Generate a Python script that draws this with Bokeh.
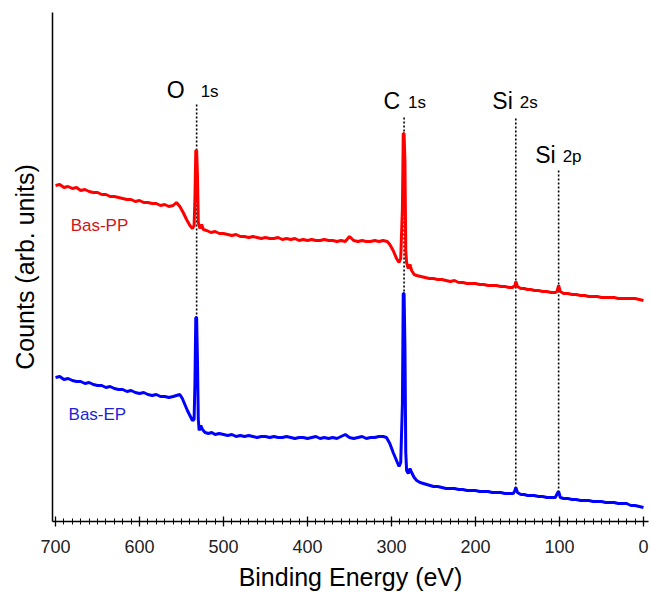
from bokeh.plotting import figure
from bokeh.models import Range1d, SingleIntervalTicker, FixedTicker, ColumnDataSource
from bokeh.core.properties import value
from bokeh.embed import file_html
from bokeh.resources import INLINE

# ---------------- data ----------------
pp_energy = [700, 695, 690, 685, 680, 675, 670, 665, 660, 655, 650, 645, 640, 635, 630, 625, 620, 615, 610, 605,
             600, 595, 590, 585, 580, 575, 570, 565, 560, 556, 552, 548, 544, 540, 537, 535, 534, 533, 532, 531,
             530, 528, 526, 524, 520, 515, 510, 505, 500, 495, 490, 485, 480, 475, 470, 465, 460, 455, 450, 445,
             440, 435, 430, 425, 420, 415, 410, 405, 400, 395, 390, 385, 380, 375, 370, 365, 360, 355, 350, 345,
             340, 335, 330, 325, 320, 315, 310, 305, 302, 298, 294, 291, 289, 287, 286, 285, 284, 283, 282, 280,
             278, 276, 273, 270, 265, 260, 255, 250, 245, 240, 235, 230, 225, 220, 215, 210, 205, 200, 195, 190,
             185, 180, 175, 170, 165, 160, 156, 153, 152, 150, 146, 142, 138, 134, 130, 125, 120, 115, 110, 105,
             103, 101, 99, 95, 90, 85, 80, 75, 70, 65, 60, 55, 50, 45, 40, 35, 30, 25, 20, 15, 10, 5, 0]
pp_counts = [336, 337, 334, 335, 333, 334, 331, 332, 330, 329, 329, 327, 327, 325, 325, 324, 323, 322, 322, 320,
             321, 319, 319, 318, 318, 316, 317, 315, 316, 319, 315, 309, 302, 296, 293, 296, 324, 371, 371, 346,
             299, 293, 297, 292, 291, 289, 290, 288, 288, 287, 286, 287, 285, 285, 284, 285, 284, 283, 284, 283,
             283, 284, 282, 283, 282, 283, 281, 282, 281, 282, 281, 281, 282, 281, 281, 280, 281, 280, 285, 281,
             280, 281, 280, 280, 281, 280, 281, 280, 277, 271, 263, 259, 263, 313, 388, 388, 361, 271, 259, 253,
             257, 251, 247, 246, 245, 244, 243, 243, 242, 242, 241, 240, 241, 239, 239, 238, 238, 238, 237, 237,
             236, 236, 236, 235, 235, 234, 234, 236, 240, 235, 233, 233, 232, 232, 231, 231, 230, 230, 229, 229,
             230, 236, 230, 228, 228, 227, 227, 226, 226, 225, 225, 225, 224, 224, 224, 224, 223, 223, 223, 223,
             223, 222, 221]

ep_energy = [700, 695, 690, 685, 680, 675, 670, 665, 660, 655, 650, 645, 640, 635, 630, 625, 620, 615, 610, 605,
             600, 595, 590, 585, 580, 575, 570, 565, 560, 556, 552, 549, 546, 543, 540, 537, 535, 534, 533, 532,
             531, 530, 529, 527, 525, 522, 518, 514, 510, 505, 500, 495, 490, 485, 480, 475, 470, 465, 460, 455,
             450, 445, 440, 435, 430, 425, 420, 415, 410, 405, 400, 395, 390, 385, 380, 375, 370, 365, 360, 355,
             350, 345, 340, 335, 330, 325, 320, 315, 310, 306, 302, 298, 294, 291, 289, 287, 286, 285, 284, 283,
             282, 280, 278, 276, 273, 270, 266, 262, 258, 254, 250, 245, 240, 235, 230, 225, 220, 215, 210, 205,
             200, 195, 190, 185, 180, 175, 170, 165, 160, 155, 153, 152, 150, 146, 142, 138, 134, 130, 125, 120,
             115, 110, 105, 102, 101, 99, 95, 90, 85, 80, 75, 70, 65, 60, 55, 50, 45, 40, 35, 30, 25, 20, 15, 10, 5, 0]
ep_counts = [144, 145, 142, 143, 141, 140, 140, 138, 139, 137, 136, 136, 134, 135, 133, 132, 132, 130, 131, 129,
             128, 129, 127, 126, 127, 125, 125, 124, 125, 126, 127, 123, 117, 111, 106, 101, 102, 139, 204, 204,
             161, 102, 91, 96, 92, 89, 88, 89, 87, 88, 87, 86, 87, 85, 86, 85, 86, 85, 84, 85,
             85, 84, 85, 84, 84, 85, 84, 83, 84, 84, 83, 84, 85, 83, 84, 83, 84, 83, 85, 87,
             84, 83, 84, 85, 83, 84, 84, 85, 85, 84, 78, 69, 61, 55, 59, 118, 228, 228, 176, 69,
             51, 48, 53, 49, 44, 41, 39, 38, 37, 36, 35, 35, 34, 33, 33, 33, 32, 32, 31, 31,
             31, 30, 30, 30, 29, 29, 29, 28, 28, 28, 31, 34, 29, 27, 27, 26, 26, 26, 25, 25,
             24, 24, 24, 29, 30, 24, 23, 23, 22, 22, 21, 21, 21, 20, 20, 20, 19, 19, 19, 18, 18, 18, 16, 16, 15, 14]

peak_element = ["O", "C", "Si", "Si"]
peak_level = ["1s", "1s", "2s", "2p"]
peak_energy = [532, 285, 152, 101]

series_names = ["Bas-PP", "Bas-EP"]
x_ticks_interval = 100

# ---------------- layout / styling (positions, not data) ----------------
peak_line_top = [418, 404, 404, 353]
peak_line_bottom = [203, 226, 33, 29]
peak_label_y = [424, 413, 413, 359]
peak_main_offset = [-12, -4, -3, -3]

name_x = [682, 684.5]
name_y = [290, 101]
line_colors = ["#ff0000", "#0000ff"]
name_colors = ["#d41414", "#1f1fd6"]

FONT = "Liberation Sans"

p = figure(width=651, height=594, output_backend="svg", toolbar_location=None,
           x_range=Range1d(703.6, -6.0), y_range=Range1d(0, 509),
           min_border_left=52, min_border_right=3, min_border_top=12, min_border_bottom=73)
p.xgrid.visible = False
p.ygrid.visible = False
p.outline_line_color = None
p.background_fill_color = "white"
p.border_fill_color = "white"

# dotted peak markers
p.segment(x0=peak_energy, y0=peak_line_bottom, x1=peak_energy, y1=peak_line_top,
          line_color="black", line_width=1.6, line_dash="2 2")

# spectra
p.line(pp_energy, pp_counts, line_color=line_colors[0], line_width=3)
p.line(ep_energy, ep_counts, line_color=line_colors[1], line_width=3)

# peak labels
src = ColumnDataSource(dict(x=peak_energy, y=peak_label_y, main=peak_element, sub=peak_level,
                            off=peak_main_offset))
p.text(x="x", y="y", text="main", x_offset="off", y_offset=-8, source=src, text_font=value(FONT),
       text_font_size="23px", text_align="right", text_baseline="alphabetic", text_color="black")
p.text(x="x", y="y", text="sub", x_offset=4, y_offset=-6, source=src, text_font=value(FONT),
       text_font_size="17px", text_align="left", text_baseline="alphabetic", text_color="black")

# series names
for nx, ny, nm, nc in zip(name_x, name_y, series_names, name_colors):
    p.text(x=[nx], y=[ny], text=[nm], y_offset=-6, text_font=value(FONT), text_font_size="17px",
           text_align="left", text_baseline="alphabetic", text_color=nc)

# axes
xa = p.xaxis[0]
xa.ticker = SingleIntervalTicker(interval=x_ticks_interval, num_minor_ticks=10)
xa.axis_label = "Binding Energy (eV)"
xa.axis_label_text_font = FONT
xa.axis_label_text_font_style = "normal"
xa.axis_label_text_font_size = "25px"
xa.axis_label_text_color = "black"
xa.axis_label_standoff = 7
xa.major_label_text_font = FONT
xa.major_label_text_font_size = "18px"
xa.major_label_text_color = "#222222"
xa.major_label_standoff = 13
xa.axis_line_color = "black"
xa.axis_line_width = 1.5
xa.major_tick_line_color = "black"
xa.major_tick_line_width = 1.3
xa.major_tick_in = 5
xa.major_tick_out = 5
xa.minor_tick_line_color = "black"
xa.minor_tick_line_width = 1
xa.minor_tick_in = 3
xa.minor_tick_out = 3

ya = p.yaxis[0]
ya.ticker = FixedTicker(ticks=[])
ya.axis_label = "Counts (arb. units)"
ya.axis_label_text_font = FONT
ya.axis_label_text_font_style = "normal"
ya.axis_label_text_font_size = "25px"
ya.axis_label_text_color = "black"
ya.axis_label_standoff = 14
ya.major_tick_out = 0
ya.major_tick_in = 0
ya.minor_tick_out = 0
ya.minor_tick_in = 0
ya.axis_line_color = "black"
ya.axis_line_width = 1.5

open("out.html", "w").write(file_html(p, INLINE))
